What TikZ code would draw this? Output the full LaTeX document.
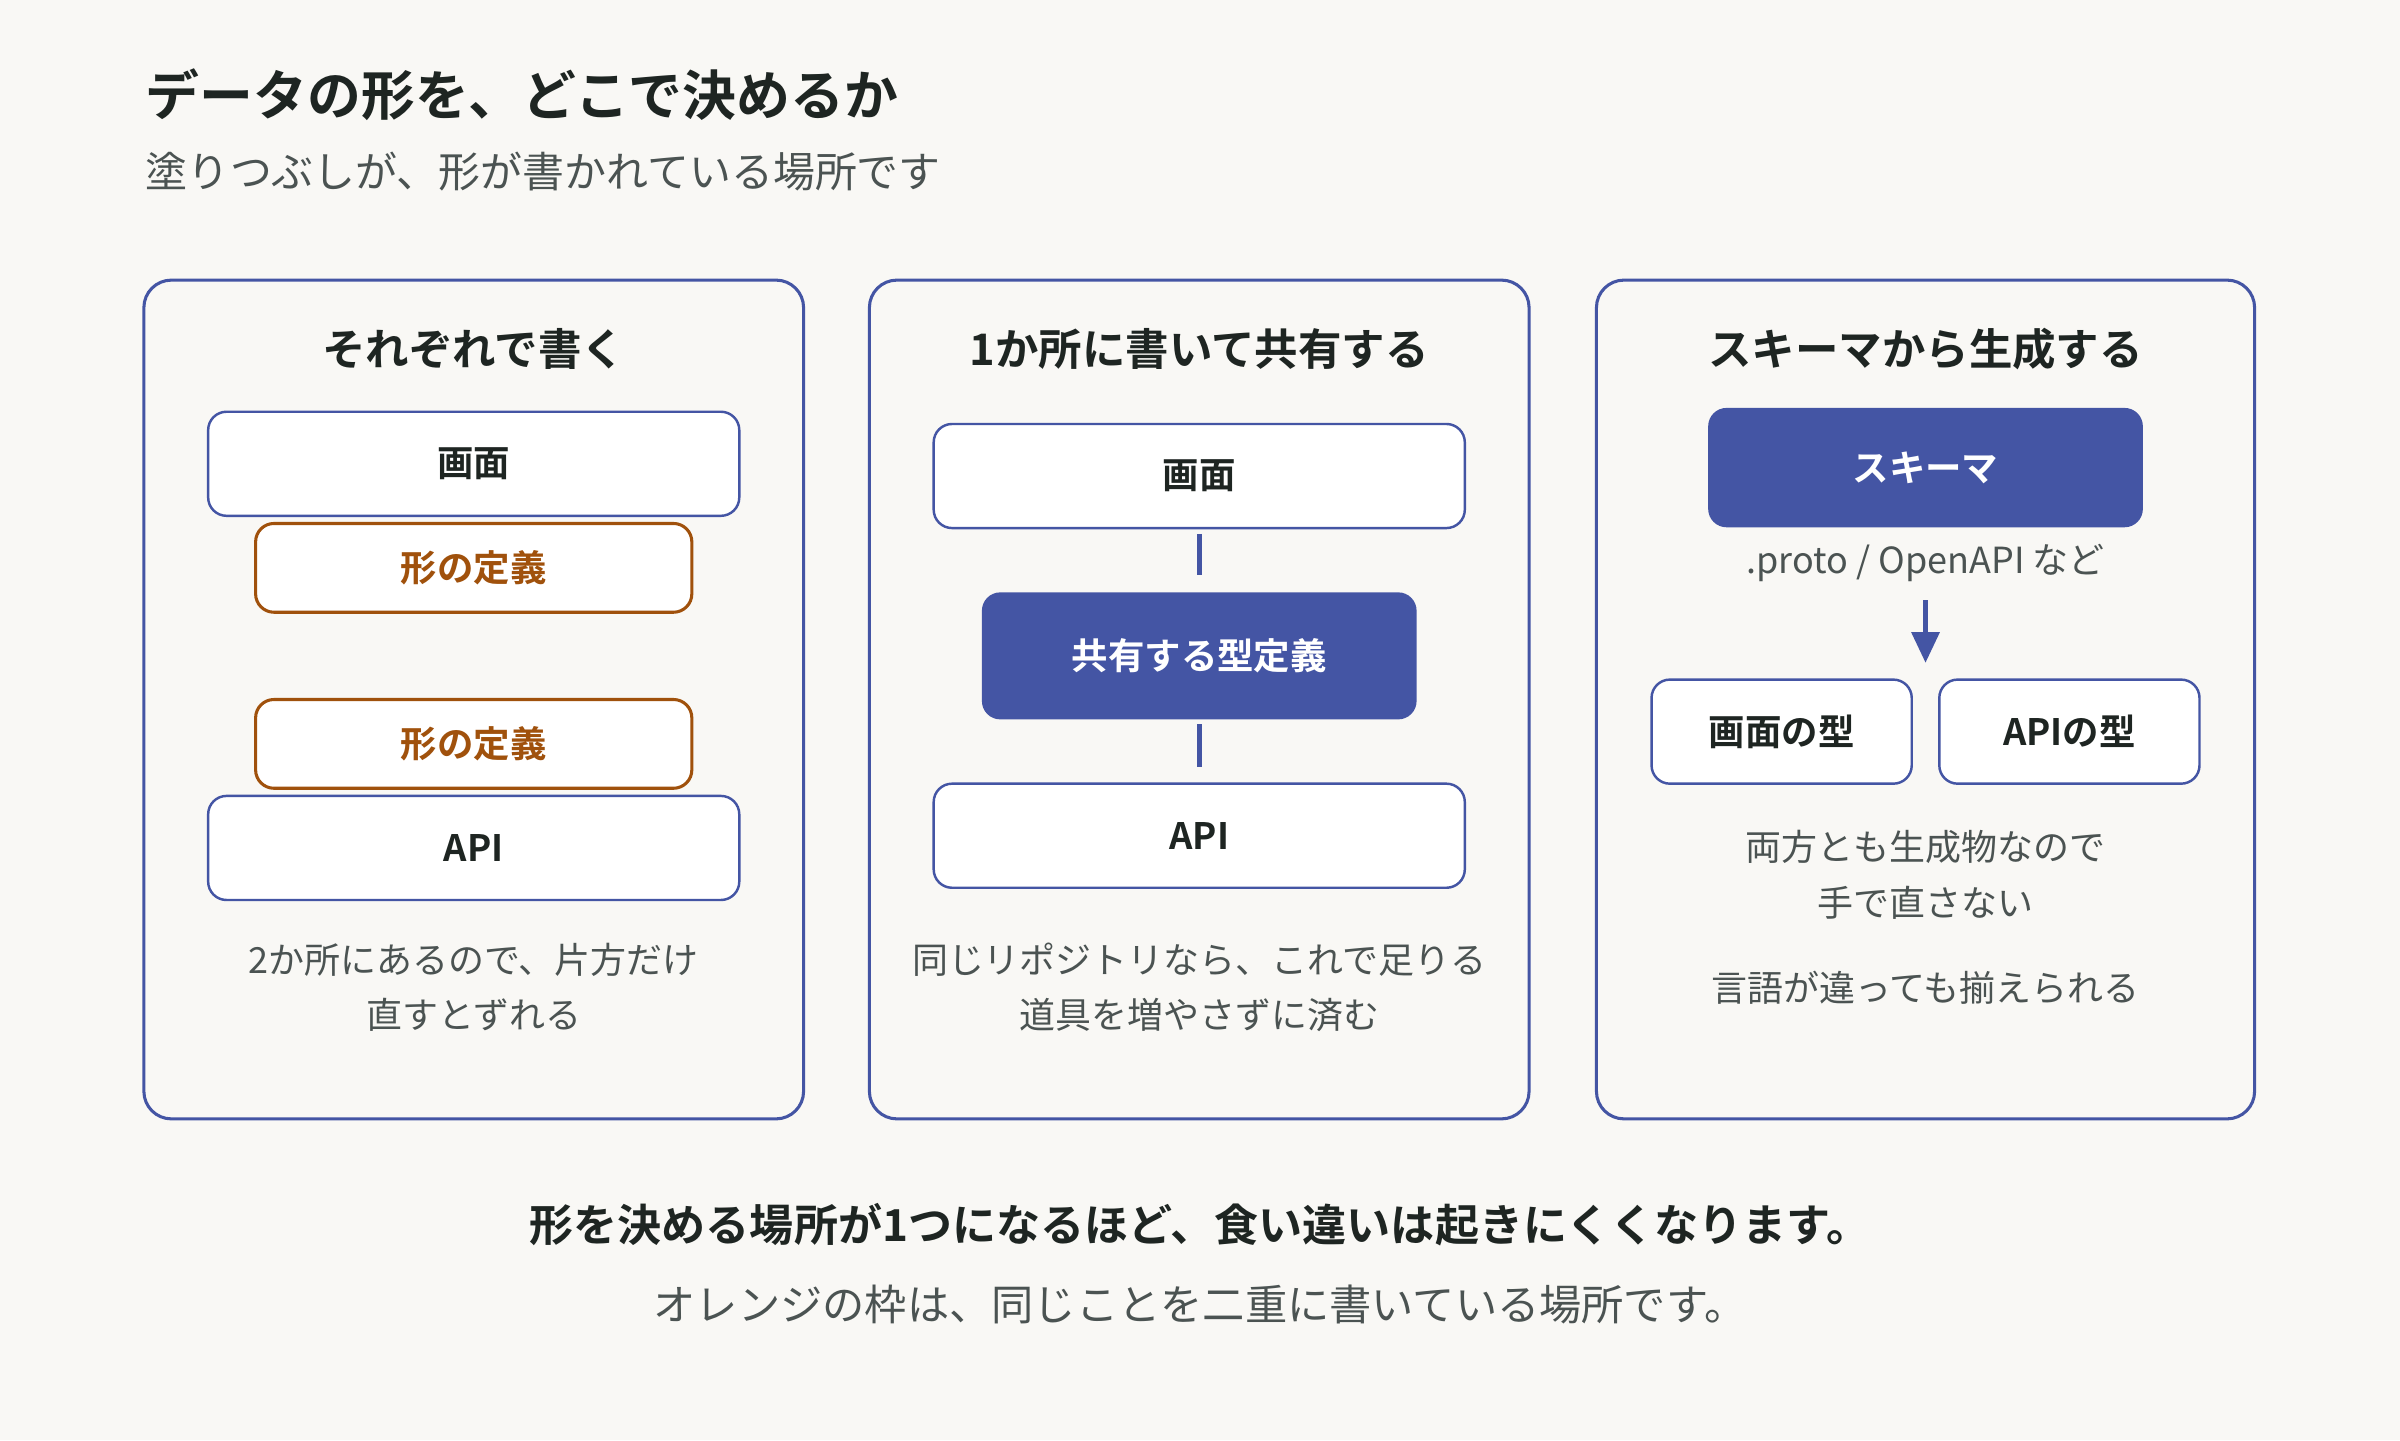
\documentclass[tikz,border=0pt]{standalone}
\usepackage{fontspec}
\setmainfont{Noto Sans CJK JP}[BoldFont={Noto Sans CJK JP Bold}]
\usetikzlibrary{arrows.meta}
\definecolor{bg}{HTML}{F9F8F5}
\definecolor{ink}{HTML}{1E2522}
\definecolor{gry}{HTML}{4B5352}
\definecolor{blu}{HTML}{4455A4}
\definecolor{org}{HTML}{A0510C}
\tikzset{
  panel/.style={draw=blu, line width=2pt, rounded corners=18pt, fill=bg},
  wbox/.style={draw=blu, line width=1.6pt, rounded corners=12pt, fill=white, text=ink, font=\bfseries\fontsize{23.8}{28}\selectfont, inner sep=0pt},
  obox/.style={draw=org, line width=2pt, rounded corners=12pt, fill=white, text=org, font=\bfseries\fontsize{23.8}{28}\selectfont, inner sep=0pt, minimum width=285pt, minimum height=58pt},
  fbox/.style={fill=blu, rounded corners=12pt, text=white, font=\bfseries\fontsize{23.8}{28}\selectfont, inner sep=0pt},
  ptitle/.style={text=ink, font=\bfseries\fontsize{28.4}{34}\selectfont, inner sep=0pt},
  captext/.style={text=gry, font=\fontsize{23.5}{28}\selectfont, inner sep=0pt},
  conn/.style={draw=blu, line width=3pt},
}
\begin{document}
\begin{tikzpicture}[x=1pt,y=-1pt]
\fill[bg] (0,0) rectangle (1568,941);
\useasboundingbox (0,0) rectangle (1568,941);

\node[anchor=west, text=ink, font=\bfseries\fontsize{35.2}{42}\selectfont, inner sep=0pt] (title) at (95,62) {データの形を、どこで決めるか};
\node[anchor=west, text=gry, font=\fontsize{27.4}{32}\selectfont, inner sep=0pt] (sub) at (95,112) {塗りつぶしが、形が書かれている場所です};

% panels
\draw[panel] (94,183) rectangle (525,731);
\draw[panel] (568,183) rectangle (999,731);
\draw[panel] (1043,183) rectangle (1473,731);

% panel 1
\node[ptitle] (t1) at (309.5,228) {それぞれで書く};
\node[wbox, minimum width=347pt, minimum height=68pt] (s1) at (309.5,303) {画面};
\node[obox] (d1) at (309.5,371) {形の定義};
\node[obox] (d2) at (309.5,486) {形の定義};
\node[wbox, minimum width=347pt, minimum height=68pt] (a1) at (309.5,554) {API};
\node[captext] (c1a) at (309.5,627) {2か所にあるので、片方だけ};
\node[captext] (c1b) at (309.5,663) {直すとずれる};

% panel 2
\node[ptitle] (t2) at (783.5,228) {1か所に書いて共有する};
\node[wbox, minimum width=347pt, minimum height=68pt] (s2) at (783.5,311) {画面};
\node[fbox, minimum width=284pt, minimum height=83pt] (sh) at (783.5,428.5) {共有する型定義};
\node[wbox, minimum width=347pt, minimum height=68pt] (a2) at (783.5,546) {API};
\draw[conn] ([yshift=-3pt]s2.south) -- ([yshift=11pt]sh.north);
\draw[conn] ([yshift=-3pt]sh.south) -- ([yshift=10pt]a2.north);
\node[captext] (c2a) at (783.5,627) {同じリポジトリなら、これで足りる};
\node[captext] (c2b) at (783.5,663) {道具を増やさずに済む};

% panel 3
\node[ptitle] (t3) at (1258,228) {スキーマから生成する};
\node[fbox, minimum width=284pt, minimum height=78pt] (sc) at (1258,305.5) {スキーマ};
\node[captext] (pr) at (1258,368) {.proto / OpenAPI など};
\node[wbox, minimum width=170pt, minimum height=68pt] (st) at (1164,478) {画面の型};
\node[wbox, minimum width=170pt, minimum height=68pt] (at) at (1352,478) {APIの型};
\coordinate (arA) at (1258,392);
\coordinate (arB) at (1258,433);
\draw[conn, -{Triangle[length=20pt,width=18pt]}] (arA) -- (arB);
\node[captext] (c3a) at (1258,553) {両方とも生成物なので};
\node[captext] (c3b) at (1258,590) {手で直さない};
\node[captext] (c3c) at (1258,645) {言語が違っても揃えられる};

% bottom
\node[text=ink, font=\bfseries\fontsize{28.8}{34}\selectfont, inner sep=0pt] (b1) at (784,800) {形を決める場所が1つになるほど、食い違いは起きにくくなります。};
\node[text=gry, font=\fontsize{27.6}{32}\selectfont, inner sep=0pt] (b2) at (784,852) {オレンジの枠は、同じことを二重に書いている場所です。};
\end{tikzpicture}
\end{document}
